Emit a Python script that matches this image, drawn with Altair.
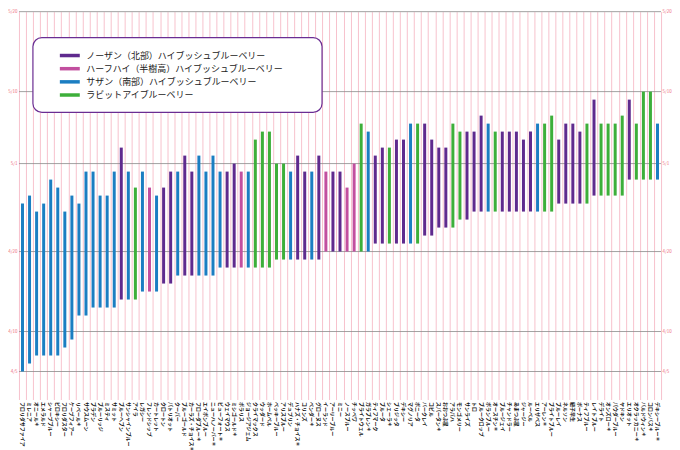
import altair as alt
import pandas as pd

# ---------------- data ----------------
varieties = [
    "フロリダサファイア", "ミレニア", "オニール＊", "エメラルド", "シャープブルー", "ビロキシー",
    "フロリダスター", "ケープフィアー", "リベール＊", "サウスムーン", "ブラデン", "ブルーリッジ",
    "ミスティ", "サミット", "ブルーヘブン", "サンシャインブルー", "アイラ", "レガシー",
    "フレンドシップ", "カートレット", "クロートン", "パトリオット", "クーパー", "ブルーゴールド",
    "カーラズ・チョイス＊", "フローダブルー＊", "エイボンブルー", "ニューハノーバー＊", "ビューフォート＊",
    "ウェイマウス", "ミシゴールド＊", "ポラリス", "ジョージアジェム", "クライマックス", "ウッダード",
    "ホームベル", "ベッキーブルー", "アリスブルー", "デュプリン", "ハナズ・チョイス＊", "コリンズ",
    "ベンダー＊", "グローヌス", "イーランド", "アーリーブルー", "ミニー", "ノースブルー",
    "チッペワ", "ブライトウェル", "ガラブレン＊", "ティフマーク", "ブルータ", "シェーラ＊",
    "ブリジッタ", "デキシー", "マグノリア", "ボニータ", "バークレイ", "コビル", "スパータン＊",
    "おおつぶ星", "アラパハ", "モンゴメリー", "サンライズ", "トロ", "ブルークロップ",
    "ボランブルー", "オースチン＊", "ブルージェイ", "チャンドラー", "あまつぶ星", "ジャージー",
    "ルーベル", "エリザベス", "アーレン＊", "ブライトブルー", "ブルーレイ", "ネルソン",
    "紐子早生", "ボーナス", "ティフブルー", "レイトブルー", "デライト", "オンズロー＊",
    "パウダーブルー", "ヤドキン", "エリオット", "オクラッカニー＊", "バルドウィン＊", "コロンバス＊",
    "デキシーブルー＊",
]
types = [
    "S", "S", "S", "S", "S", "S", "S", "S", "S", "S", "S", "S",
    "S", "S", "N", "S", "R", "S",
    "H", "S", "N", "N", "S", "N",
    "N", "S", "S", "S", "S",
    "N", "N", "H", "S", "R", "R",
    "R", "R", "R", "S", "N", "N",
    "S", "N", "H", "N", "N", "H",
    "H", "R", "S", "N", "N", "R",
    "N", "N", "S", "R", "N", "N", "N",
    "N", "R", "R", "N", "N", "N",
    "S", "R", "N", "N", "N", "N",
    "N", "S", "R", "R", "N", "N",
    "N", "N", "R", "N", "R", "R",
    "R", "R", "N", "R", "R", "R",
    "S",
]
starts = [
    "4/5", "4/6", "4/7", "4/7", "4/7", "4/7", "4/8", "4/9", "4/12", "4/12", "4/13", "4/13",
    "4/13", "4/13", "4/14", "4/14", "4/14", "4/15",
    "4/15", "4/15", "4/16", "4/16", "4/17", "4/17",
    "4/17", "4/17", "4/17", "4/17", "4/18",
    "4/18", "4/18", "4/18", "4/18", "4/18", "4/18",
    "4/18", "4/19", "4/19", "4/19", "4/19", "4/19",
    "4/19", "4/19", "4/20", "4/20", "4/20", "4/20",
    "4/20", "4/20", "4/20", "4/21", "4/21", "4/21",
    "4/21", "4/21", "4/21", "4/21", "4/22", "4/22", "4/23",
    "4/23", "4/23", "4/24", "4/24", "4/25", "4/25",
    "4/25", "4/25", "4/25", "4/25", "4/25", "4/25",
    "4/25", "4/25", "4/25", "4/25", "4/26", "4/26",
    "4/26", "4/26", "4/26", "4/27", "4/27", "4/27",
    "4/27", "4/27", "4/29", "4/29", "4/29", "4/29",
    "4/29",
]
ends = [
    "4/26", "4/27", "4/25", "4/26", "4/29", "4/28", "4/25", "4/27", "4/26", "4/30", "4/30", "4/27",
    "4/27", "4/30", "5/3", "4/30", "4/28", "4/30",
    "4/28", "4/27", "4/28", "4/30", "4/30", "5/2",
    "4/30", "5/2", "4/30", "5/2", "4/30",
    "4/30", "5/1", "4/30", "4/30", "5/4", "5/5",
    "5/5", "5/1", "5/1", "4/30", "5/2", "4/30",
    "4/30", "5/2", "4/30", "4/30", "4/30", "4/28",
    "5/1", "5/6", "5/5", "5/2", "5/3", "5/3",
    "5/4", "5/4", "5/6", "5/6", "5/6", "5/4", "5/3",
    "5/3", "5/6", "5/5", "5/5", "5/5", "5/7",
    "5/6", "5/5", "5/5", "5/5", "5/5", "5/4",
    "5/5", "5/6", "5/6", "5/7", "5/4", "5/6",
    "5/6", "5/5", "5/6", "5/9", "5/6", "5/6",
    "5/6", "5/7", "5/9", "5/6", "5/10", "5/10",
    "5/6",
]

type_codes = ["N", "H", "S", "R"]
type_names = [
    "ノーザン（北部）ハイブッシュブルーベリー",
    "ハーフハイ（半樹高）ハイブッシュブルーベリー",
    "サザン（南部）ハイブッシュブルーベリー",
    "ラビットアイブルーベリー",
]
type_colors = ["#5f2a8e", "#c24f9f", "#1b7ec2", "#3daf3a"]
tick_labels = ["4/5", "4/10", "4/20", "5/1", "5/10", "5/20"]

# ---------------- tables ----------------
name_of = dict(zip(type_codes, type_names))
df = pd.DataFrame({
    "品種": varieties,
    "type": [name_of[t] for t in types],
    "start": starts,
    "end": ends,
})
ticks_df = pd.DataFrame({"label": tick_labels})
legend_df = pd.DataFrame({"type": type_names})
box_df = pd.DataFrame({"a": [0]})


def date_expr(f):
    return (f"datetime(2024, toNumber(split(datum.{f}, '/')[0]) - 1, "
            f"toNumber(split(datum.{f}, '/')[1]))")


W, H = 644, 389
FONT = "Noto Sans CJK JP"
ydom = [alt.DateTime(year=2024, month=4, date=1, hours=12),
        alt.DateTime(year=2024, month=5, date=20)]
yscale = alt.Scale(domain=ydom)
cscale = alt.Scale(domain=type_names, range=type_colors)

# background day stripes
stripes = alt.Chart(alt.sequence(0, 52, as_="k")).transform_filter(
    "datum.k % 2 == 1"
).transform_calculate(
    s="datetime(2024, 3, 1) + (datum.k + 0.3) * 864e5",
    e="datetime(2024, 3, 1) + (datum.k + 1.1) * 864e5",
).mark_rect(color="#fde6ea", clip=True).encode(
    y=alt.Y("s:T", scale=yscale, axis=None),
    y2="e:T",
)

# bars (also carry the x axis with pink column grid)
bars = alt.Chart(df).transform_calculate(
    s=date_expr("start"), e=date_expr("end")
).mark_bar(size=3).encode(
    x=alt.X("品種:N", sort=varieties, title=None,
            scale=alt.Scale(paddingInner=0, paddingOuter=0),
            axis=alt.Axis(labelAngle=90, labelAlign="left", labelBaseline="middle",
                          labelFontSize=5, labelFont=FONT, labelFontWeight="bold",
                          labelColor="#111", labelPadding=2, ticks=False, domain=False,
                          grid=True, gridColor="#f5b3c0", gridWidth=0.8,
                          tickBand="extent", labelLimit=120)),
    y=alt.Y("s:T", scale=yscale, axis=None),
    y2="e:T",
    color=alt.Color("type:N", scale=cscale, legend=None),
)

tick_base = alt.Chart(ticks_df).transform_calculate(d=date_expr("label"))
rules = tick_base.mark_rule(color="#8a8a8a", strokeWidth=0.8).encode(
    y=alt.Y("d:T", scale=yscale, axis=None)
)
left_lab = tick_base.mark_text(align="right", baseline="middle", dx=-1.5, fontSize=4.5,
                               font=FONT, color="#ee6b7b").encode(
    x=alt.value(0), y=alt.Y("d:T", scale=yscale, axis=None), text="label:N"
)
right_lab = tick_base.mark_text(align="left", baseline="middle", dx=1.5, fontSize=4.5,
                                font=FONT, color="#ee6b7b").encode(
    x=alt.value(W), y=alt.Y("d:T", scale=yscale, axis=None), text="label:N"
)

main = alt.layer(stripes, rules, bars, left_lab, right_lab)

# legend box
box = alt.Chart(box_df).mark_rect(fill="white", stroke="#6a2d93", strokeWidth=1.2,
                                  cornerRadius=9).encode(
    x=alt.value(14), x2=alt.value(304), y=alt.value(26), y2=alt.value(101)
)
lbase = alt.Chart(legend_df).transform_window(i="row_number()")
lscale = alt.Scale(domain=[1, 4], range=[44, 83.6])
swatch = lbase.mark_rule(strokeWidth=3.5).encode(
    x=alt.value(41), x2=alt.value(61),
    y=alt.Y("i:Q", scale=lscale, axis=None),
    color=alt.Color("type:N", scale=cscale, legend=None),
)
ltext = lbase.mark_text(align="left", baseline="middle", fontSize=9,
                        font=FONT, color="#222").encode(
    x=alt.value(67.5),
    y=alt.Y("i:Q", scale=lscale, axis=None),
    text="type:N",
)
legend = alt.layer(box, swatch, ltext)

chart = alt.layer(main, legend).resolve_scale(y="independent").properties(
    width=W, height=H, padding=0
).configure_view(stroke=None)

chart.save("out.html", embed_options={"renderer": "svg", "actions": False})
